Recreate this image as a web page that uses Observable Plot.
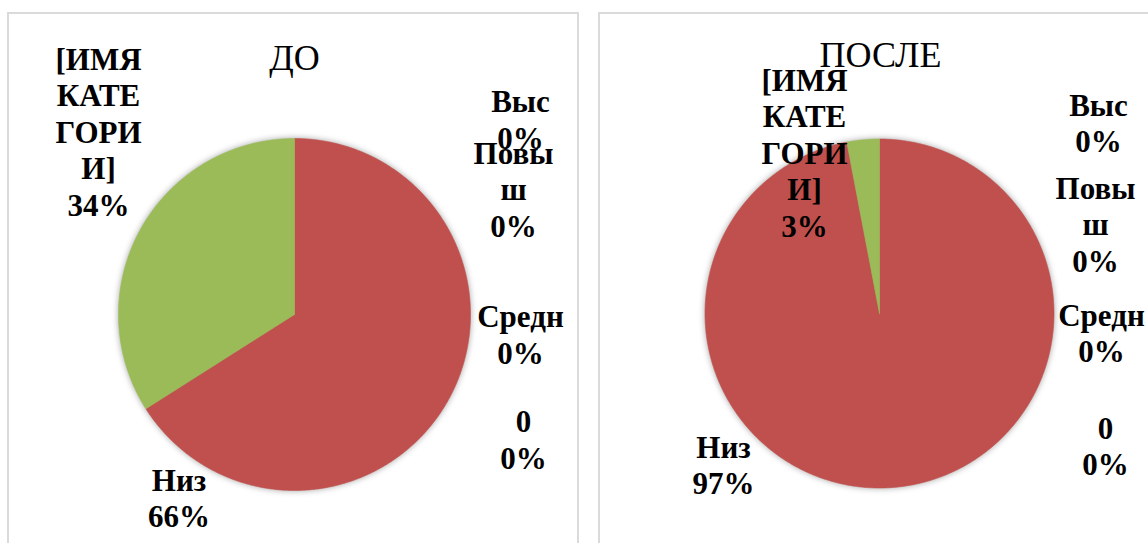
<!DOCTYPE html>
<html>
<head>
<meta charset="utf-8">
<script src="https://cdn.jsdelivr.net/npm/d3@7"></script>
<script src="https://cdn.jsdelivr.net/npm/@observablehq/plot@0.6"></script>
<style>
  html, body { margin: 0; padding: 0; background: #fff; }
  #root { position: relative; width: 1148px; height: 543px; overflow: hidden; background: #fff; }
  .panel { position: absolute; box-sizing: border-box; border: 2px solid #dadada; background: #fff; }
  .chart { position: absolute; top: 0; }
</style>
</head>
<body>
<div id="root"></div>
<script>
// ---- data ----
const categories = ["Низ", "[ИМЯ КАТЕГОРИИ]", "Средн", "Повыш", "Выс", "0"];
const labelText  = ["Низ", "[ИМЯ\nКАТЕ\nГОРИ\nИ]", "Средн", "Повы\nш", "Выс", "0"];
const colors     = ["#C0504D", "#9BBB59", "#8064A2", "#4BACC6", "#F79646", "#4F81BD"];
const titles     = ["ДО", "ПОСЛЕ"];
const valuesBefore = [66, 34, 0, 0, 0, 0];
const valuesAfter  = [97, 3, 0, 0, 0, 0];

// ---- layout (pixels) ----
const H = 543;
const FONT = "'Liberation Serif', 'Times New Roman', serif";
const LABEL_SIZE = 31;
const LINE = 36.5;                 // label line spacing in px
const panelBoxes = [
  {left: 7, top: 12, width: 572, height: 600},
  {left: 598, top: 12, width: 600, height: 600}
];
// label offsets from the pie centre: [dx, baseline of first line dy]
const panels = [
  {title: titles[0], values: valuesBefore, left: 0, width: 585, cx: 294, cy: 314, r: 176,
   titlePos: [0, -245],
   labelPos: [[-115.5, 176], [-196, -245], [226, 12.7], [219, -151], [226, -202.3], [229, 117.7]]},
  {title: titles[1], values: valuesAfter, left: 585, width: 563, cx: 294, cy: 313, r: 174.5,
   titlePos: [1, -246.3],
   labelPos: [[-156, 144], [-75, -223], [222, 12], [216, -115], [219, -198], [226, 125]]}
];

const root = document.getElementById("root");
panelBoxes.forEach(b => {
  const d = document.createElement("div");
  d.className = "panel";
  Object.assign(d.style, {left: b.left + "px", top: b.top + "px", width: b.width + "px", height: b.height + "px"});
  root.appendChild(d);
});

function pieChart(p) {
  const total = d3.sum(p.values);
  const slices = [];
  let cum = 0;
  p.values.forEach((v, i) => {
    const a0 = cum / total * 2 * Math.PI;
    cum += v;
    const a1 = cum / total * 2 * Math.PI;
    if (v <= 0) return;
    const n = Math.max(2, Math.ceil((a1 - a0) / (Math.PI / 360)));
    slices.push({cat: categories[i], x: 0, y: 0});
    for (let k = 0; k <= n; k++) {
      const a = a0 + (a1 - a0) * k / n;
      slices.push({cat: categories[i], x: p.r * Math.sin(a), y: -p.r * Math.cos(a)});
    }
    slices.push({cat: categories[i], x: 0, y: 0});
  });
  const labels = categories.map((c, i) => {
    const nLines = labelText[i].split("\n").length + 1;
    const [dx, dy] = p.labelPos[i];
    return {
      text: labelText[i] + "\n" + Math.round(p.values[i] / total * 100) + "%",
      x: dx,
      y: dy + (nLines - 1) * LINE
    };
  });
  const svg = Plot.plot({
    width: p.width,
    height: H,
    margin: 0,
    x: {domain: [-p.cx, p.width - p.cx], range: [0, p.width], axis: null},
    y: {domain: [-p.cy, H - p.cy], range: [0, H], axis: null},
    color: {domain: categories, range: colors},
    style: {background: "transparent", overflow: "visible"},
    marks: [
      Plot.line(slices, {x: "x", y: "y", z: "cat", fill: "cat", stroke: "cat", strokeWidth: 0.6, curve: "linear"}),
      Plot.text(labels, {
        x: "x", y: "y", text: "text",
        fontFamily: FONT, fontWeight: "bold", fontSize: LABEL_SIZE,
        lineHeight: LINE / LABEL_SIZE, lineAnchor: "bottom", textAnchor: "middle", fill: "#000"
      }),
      Plot.text([{text: p.title, x: p.titlePos[0], y: p.titlePos[1]}], {
        x: "x", y: "y", text: "text",
        fontFamily: FONT, fontWeight: "normal", fontSize: 36,
        lineAnchor: "bottom", textAnchor: "middle", fill: "#000"
      })
    ]
  });
  d3.select(svg).selectAll('g[aria-label="line"]').style("filter", "drop-shadow(0px 0px 3px rgba(0,0,0,0.35))");
  svg.classList.add("chart");
  svg.style.position = "absolute";
  svg.style.left = p.left + "px";
  svg.style.top = "0px";
  return svg;
}

panels.forEach(p => root.appendChild(pieChart(p)));
</script>
</body>
</html>
